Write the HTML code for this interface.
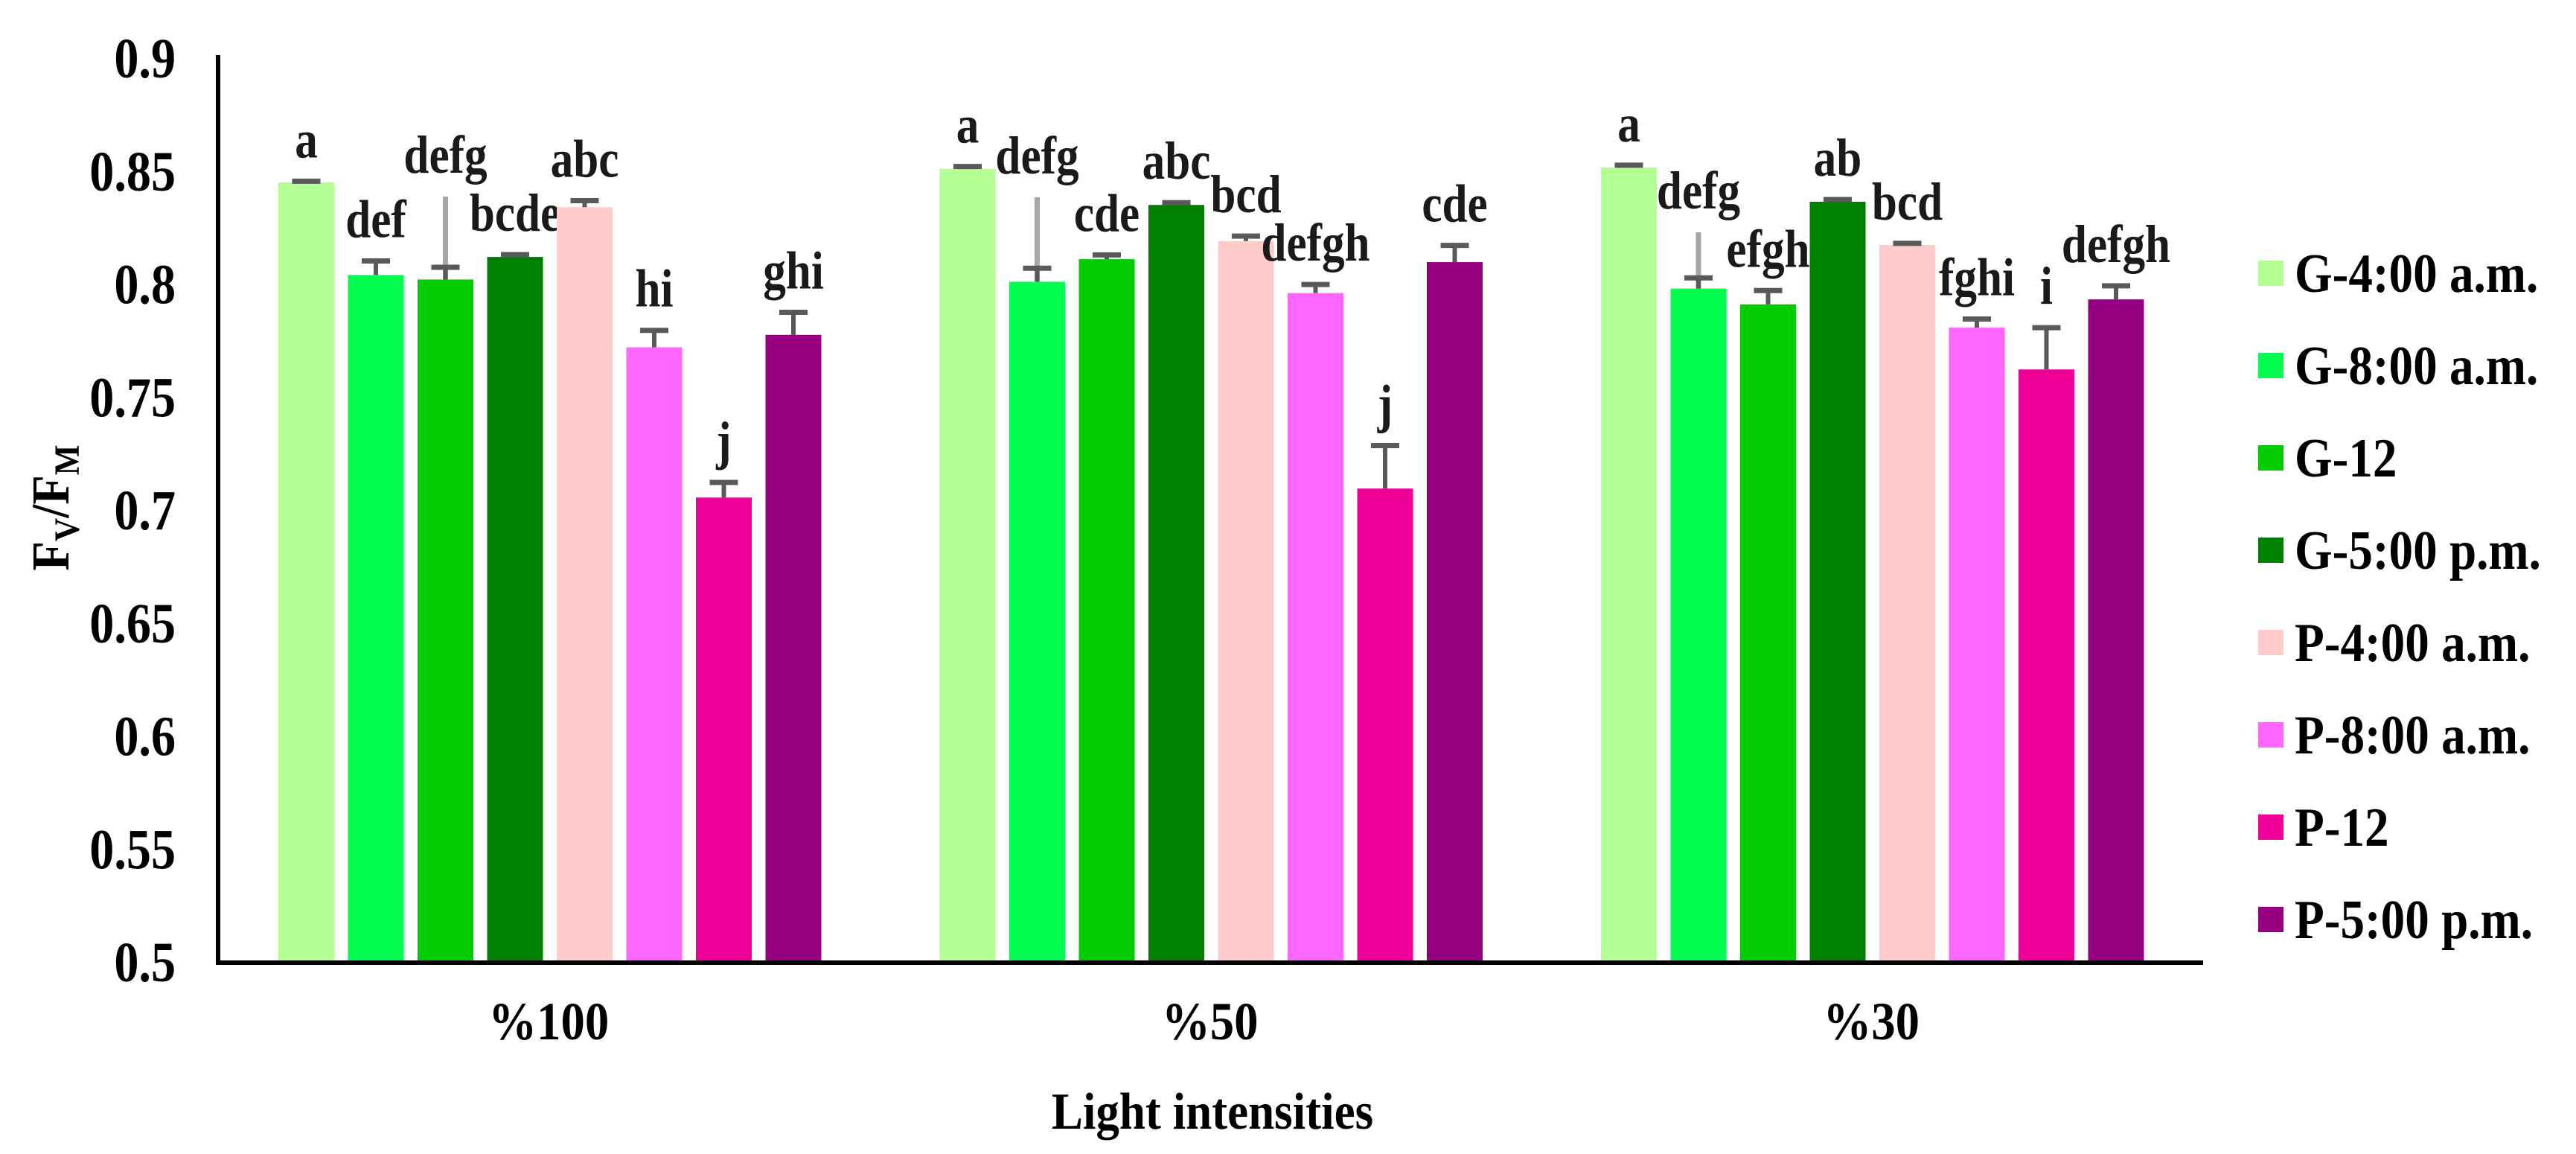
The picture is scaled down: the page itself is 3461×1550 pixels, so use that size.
<!DOCTYPE html>
<html><head><meta charset="utf-8"><style>
html,body{margin:0;padding:0;background:#fff;}
svg{display:block;font-family:"Liberation Serif",serif;font-weight:bold;}
</style></head><body>
<svg id="chart" width="3461" height="1550" viewBox="0 0 3461 1550" xmlns="http://www.w3.org/2000/svg"></svg>
<script>
const categories = ["%100", "%50", "%30"];
const seriesNames = ["G-4:00 a.m.","G-8:00 a.m.","G-12","G-5:00 p.m.","P-4:00 a.m.","P-8:00 a.m.","P-12","P-5:00 p.m."];
const seriesColors = ["#b3ff94","#00ff50","#00cc00","#008000","#ffcccc","#ff66ff","#ee0099","#960080"];
const values100 = [0.845,0.804,0.802,0.812,0.834,0.772,0.7055,0.7775];
const values50 = [0.851,0.801,0.811,0.835,0.819,0.796,0.7095,0.8097];
const values30 = [0.8516,0.798,0.791,0.8364,0.8173,0.7807,0.7622,0.7932];
const errors100 = [0.0005,0.0062,0.0054,0.001,0.0029,0.0075,0.0067,0.010];
const errors50 = [0.001,0.006,0.0019,0.001,0.0022,0.0038,0.019,0.0074];
const errors30 = [0.001,0.0047,0.0061,0.001,0.0007,0.0038,0.0185,0.006];
const grayTop100 = [0,0,0.8387,0,0,0,0,0];
const grayTop50 = [0,0.8384,0,0,0,0,0,0];
const grayTop30 = [0,0.8229,0,0,0,0,0,0];
const letters100 = ["a","def","defg","bcde","abc","hi","j","ghi"];
const letters50 = ["a","defg","cde","abc","bcd","defgh","j","cde"];
const letters30 = ["a","defg","efgh","ab","bcd","fghi","i","defgh"];
const yTicks = [0.5,0.55,0.6,0.65,0.7,0.75,0.8,0.85,0.9];
const yTickLabels = ["0.5","0.55","0.6","0.65","0.7","0.75","0.8","0.85","0.9"];

const allValues=[values100,values50,values30];
const allErrors=[errors100,errors50,errors30];
const allGray=[grayTop100,grayTop50,grayTop30];
const allLetters=[letters100,letters50,letters30];

const NS="http://www.w3.org/2000/svg";
const svg=document.getElementById('chart');
const X0=293, X1=2960, BAND=888.5, Y05=1292, PXU=3035;
function yScale(v){return Y05-(v-0.5)*PXU;}
function xBar(c,s){return X0+81+c*BAND+s*93.5;}
const BW=75;
function mk(tag,attrs,parent){const e=document.createElementNS(NS,tag);for(const k in attrs)e.setAttribute(k,attrs[k]);(parent||svg).appendChild(e);return e;}
function txt(x,y,str,size,anchor,sx){const t=mk('text',{x:0,y:0,'font-size':size,'text-anchor':anchor,fill:'#000',transform:`translate(${x},${y}) scale(${sx},1)`});t.textContent=str;return t;}

// y ticks
yTicks.forEach((v,i)=>{
  const t=txt(236,yScale(v)+26,yTickLabels[i],76,'end',0.87);
  
  
});
// bars
allValues.forEach((vals,c)=>{
  vals.forEach((v,s)=>{
    const x=xBar(c,s), top=yScale(v);
    const r=mk('rect',{x:x,y:top,width:BW,height:Y05-top,fill:seriesColors[s]});
    
    
    const cx=x+BW/2;
    const capY=yScale(v+allErrors[c][s]);
    let labelTop=capY;
    const g=allGray[c][s];
    if(g>0){
      const gy=yScale(g);
      const gl=mk('line',{x1:cx,x2:cx,y1:gy,y2:top,stroke:'#a6a6a6','stroke-width':7});
      
      
      labelTop=Math.min(labelTop,gy);
    }
    const el=mk('line',{x1:cx,x2:cx,y1:capY,y2:top,stroke:'#595959','stroke-width':6});
    
    
    const cap=mk('line',{x1:cx-19,x2:cx+19,y1:capY,y2:capY,stroke:'#595959','stroke-width':7});
    
    
    const lt=txt(cx,labelTop-32,allLetters[c][s],72,'middle',0.85);
    lt.setAttribute('fill','#1a1a1a');
    
    
  });
  const cl=txt(X0+BAND*(c+0.5),1396,categories[c],72,'middle',0.9);
  
  
});
// axes
const ya=mk('line',{x1:X0,x2:X0,y1:74,y2:1295,stroke:'#000','stroke-width':6});


const xa=mk('line',{x1:X0-3,x2:X1,y1:1293,y2:1293,stroke:'#000','stroke-width':6});


// axis titles
const xt=txt(1629,1516,'Light intensities',70,'middle',0.9);


const yg=mk('g',{transform:'translate(92,682) rotate(-90) scale(0.9,1)'});


const yt=mk('text',{x:0,y:0,'font-size':72,'text-anchor':'middle',fill:'#000'},yg);
yt.innerHTML='F<tspan font-size="48" dy="14">V</tspan><tspan dy="-14">/F</tspan><tspan font-size="48" dy="14">M</tspan>';
// legend
seriesNames.forEach((n,i)=>{
  const y=350+i*124;
  const sw=mk('rect',{x:3034,y:y,width:34,height:34,fill:seriesColors[i]});
  
  
  const lt=txt(3083,y+42,n,74,'start',0.88);
  
  
});
</script>
</body></html>
